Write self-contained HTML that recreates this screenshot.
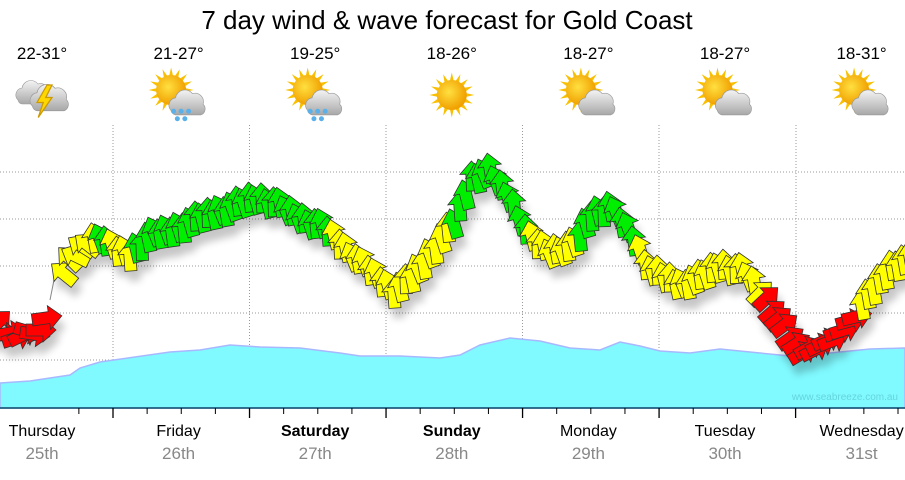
<!DOCTYPE html>
<html><head><meta charset="utf-8"><style>
body{margin:0;background:#fff;width:905px;height:475px;overflow:hidden;font-family:"Liberation Sans",sans-serif}
</style></head><body>
<svg id="s" width="905" height="475" xmlns="http://www.w3.org/2000/svg" font-family="Liberation Sans, sans-serif">
<defs>
<radialGradient id="sun" cx="0.4" cy="0.4" r="0.6"><stop offset="0" stop-color="#ffe040"/><stop offset="1" stop-color="#f0a000"/></radialGradient>
<linearGradient id="cl" x1="0" y1="0" x2="0" y2="1"><stop offset="0" stop-color="#f4f4f4"/><stop offset="1" stop-color="#a8a8a8"/></linearGradient>
<filter id="sh" x="-20%" y="-20%" width="140%" height="160%"><feGaussianBlur stdDeviation="4"/></filter>
</defs>
<text x="447" y="29" font-size="26" text-anchor="middle">7 day wind &amp; wave forecast for Gold Coast</text>
<g id="grid" stroke="#999" stroke-dasharray="1,2" stroke-width="1"></g>
<path id="wave" fill="#80faff" stroke="#a8b8ff" stroke-width="1.5"/>
<text x="898" y="400" font-size="10" fill="#66d4dd" text-anchor="end">www.seabreeze.com.au</text>
<line x1="0" y1="408" x2="905" y2="408" stroke="#0a4a6a" stroke-width="1.5"/>
<g id="ticks" stroke="#000"></g>
<g id="lbl" font-size="16"></g>
<line x1="50" y1="300" x2="56" y2="270" stroke="#888"/>
<g id="shadow" filter="url(#sh)" opacity="0.22"></g>
<g id="arr" stroke="#333" stroke-width="0.8"></g>
<g id="icons"></g>
</svg>
<script>
var NS="http://www.w3.org/2000/svg";
function el(t,a,p){var e=document.createElementNS(NS,t);for(var k in a)e.setAttribute(k,a[k]);if(p)p.appendChild(e);return e;}
var $=function(i){return document.getElementById(i)};
[172,219,266,313,360].forEach(function(y){el("line",{x1:0,x2:905,y1:y,y2:y},$("grid"))});
var days=[113,249.5,386,522.5,659,796];
days.forEach(function(x){el("line",{x1:x,x2:x,y1:125,y2:408},$("grid"))});
for(var i=-1;i<30;i++){var x=113+i*34.13;if(x<0||x>905)continue;var maj=(i%4==0);el("line",{x1:x,x2:x,y1:408,y2:maj?418:414,"stroke-width":maj?1.3:1},$("ticks"));}
var wp=[[0,383],[30,381],[50,378],[70,375],[80,368],[100,362],[135,357],[170,352],[200,350],[230,345],[260,347],[300,348],[340,353],[360,356],[400,356],[440,358],[460,355],[480,345],[510,338],[540,341],[570,348],[600,350],[620,342],[640,346],[660,351],[690,353],[720,349],[760,353],[790,356],[830,353],[870,349],[905,348]];
$("wave").setAttribute("d","M0,408 L"+wp.map(function(p){return p.join(",")}).join(" L")+" L905,408 Z");
var names=["Thursday","Friday","Saturday","Sunday","Monday","Tuesday","Wednesday"],dates=["25th","26th","27th","28th","29th","30th","31st"],temps=["22-31°","21-27°","19-25°","18-26°","18-27°","18-27°","18-31°"];
for(var i=0;i<7;i++){var cx=42+i*136.6;
 var t=el("text",{x:cx,y:436,"text-anchor":"middle","font-weight":(i==2||i==3)?"bold":"normal"},$("lbl"));t.textContent=names[i];
 t=el("text",{x:cx,y:459,"text-anchor":"middle",fill:"#888","font-size":17},$("lbl"));t.textContent=dates[i];
 t=el("text",{x:cx,y:59,"text-anchor":"middle","font-size":17},$("lbl"));t.textContent=temps[i];
 var g=el("g",{transform:"translate("+cx+",95) scale(1.25)"},$("icons"));
 if(i==0){cloud(g,-8,-4,0.8);cloud(g,5,0,0.9);el("path",{d:"M4,-8 L-4,6 L1,6 L-3,18 L8,2 L3,2 L8,-8 Z",fill:"#ffd700",stroke:"#c90"},g);}
 else{sun(g,i==3?0:-6,i==3?0:-4);if(i!=3)cloud(g,6,4,0.85);if(i==1||i==2){[[-4,13],[2,13],[8,13],[-1,19],[5,19]].forEach(function(p){el("circle",{cx:p[0],cy:p[1],r:2,fill:"#5ab0e8"},g)});}}
}
function sun(g,x,y){for(var a=0;a<16;a++){var r=a*Math.PI/8;el("path",{d:"M"+(x+Math.cos(r-0.15)*11)+","+(y+Math.sin(r-0.15)*11)+" L"+(x+Math.cos(r)*18)+","+(y+Math.sin(r)*18)+" L"+(x+Math.cos(r+0.15)*11)+","+(y+Math.sin(r+0.15)*11)+"Z",fill:"#f8c000"},g);}
 el("circle",{cx:x,cy:y,r:12,fill:"url(#sun)"},g);}
function cloud(g,x,y,s){var c=el("g",{transform:"translate("+x+","+y+") scale("+s+")"},g);
 el("path",{d:"M-14,10 A7,7 0 0 1 -10,-2 A9,9 0 0 1 6,-6 A8,8 0 0 1 16,4 A6,6 0 0 1 14,14 L-10,14 A5,5 0 0 1 -14,10 Z",fill:"url(#cl)",stroke:"#999","stroke-width":0.6},c);}
var pts=[[0,332],[20,336],[40,332],[55,292],[70,262],[85,245],[100,236],[115,250],[130,255],[150,236],[175,230],[200,218],[230,208],[255,198],[275,203],[300,218],[325,228],[345,248],[370,270],[395,292],[415,275],[435,248],[455,222],[472,178],[490,172],[510,198],[530,238],[550,252],[575,245],[592,215],[610,207],[630,232],[650,270],[680,285],[700,278],[720,265],[745,272],[765,298],[785,330],[800,352],[830,342],[850,322],[870,295],[890,268],[905,260]];
function yAt(x){for(var i=1;i<pts.length;i++)if(x<=pts[i][0]){var a=pts[i-1],b=pts[i],t=(x-a[0])/(b[0]-a[0]);return a[1]+t*(b[1]-a[1]);}return 260;}
function col(x){if(x<55)return"#ff0000";if(x<95)return"#ffff00";if(x<108)return"#00ee00";if(x<135)return"#ffff00";if(x<330)return"#00ee00";if(x<450)return"#ffff00";if(x<528)return"#00ee00";if(x<575)return"#ffff00";if(x<635)return"#00ee00";if(x<765)return"#ffff00";if(x<862)return"#ff0000";return"#ffff00";}
function ang(x){if(x<55)return 60+((x*7)%50);if(x<90)return -65+(x%25);if(x<760)return -22+((x*13)%22);if(x<862)return 45+((x*7)%40);return -10;}
var A="M0,-16 L12,-3 L6,-3 L6,14 L-6,14 L-6,-3 L-12,-3 Z";
for(var x=-2;x<912;x+=6){if(x>50&&x<60)continue;var y=yAt(x)+((x*17)%7)-3;
 var tr="translate("+x+","+y+") rotate("+ang(x)+")";
 el("path",{d:A,transform:"translate(4,10) "+tr,fill:"#000"},$("shadow"));
 el("path",{d:A,transform:tr,fill:col(x)},$("arr"));}
</script>
</body></html>
